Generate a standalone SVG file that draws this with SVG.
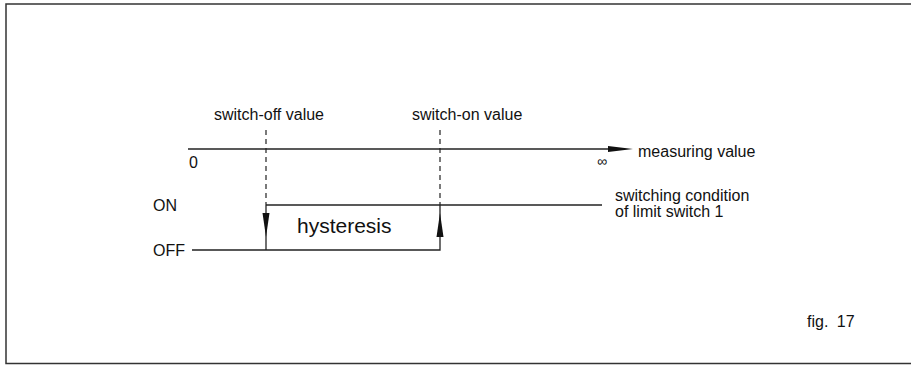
<svg xmlns="http://www.w3.org/2000/svg" width="911" height="366" viewBox="0 0 911 366">
<style>
.t{font-family:"Liberation Sans",Arial,Helvetica,sans-serif;fill:#111;font-size:16px}
.big{font-size:21px}
.sm{font-size:14px}
.ln{stroke:#222;stroke-width:1.3;fill:none}
.ds{stroke:#222;stroke-width:1.2;stroke-dasharray:5 4;fill:none}
.ah{fill:#111}
</style>
<rect x="6" y="4" width="910" height="359.5" fill="#fff" stroke="#333" stroke-width="1.5"/>
<g id="connectors">
<line class="ln" x1="188" y1="149" x2="610" y2="149"/>
<polygon class="ah" points="608,146 633,149 608,152"/>
<line class="ds" x1="266" y1="130" x2="266" y2="205"/>
<line class="ds" x1="440" y1="130" x2="440" y2="205"/>
<line class="ln" x1="266" y1="205" x2="602" y2="205"/>
<polyline class="ln" points="192,250 440,250 440,205"/>
<line class="ln" x1="266" y1="205" x2="266" y2="250"/>
<polygon class="ah" points="262.5,213 269.5,213 266,237"/>
<polygon class="ah" points="436.5,237 443.5,237 440,213"/>
</g>
<g id="labels">
<text class="t" x="214" y="120">switch-off value</text>
<text class="t" x="412" y="120">switch-on value</text>
<text class="t" x="189" y="168">0</text>
<text class="t sm" x="597" y="166">∞</text>
<text class="t" x="638" y="157">measuring value</text>
<text class="t" x="615" y="201">switching condition</text>
<text class="t" x="615" y="217">of limit switch 1</text>
<text class="t" x="153" y="211">ON</text>
<text class="t" x="153" y="256">OFF</text>
<text class="t big" x="297" y="233">hysteresis</text>
<text class="t" x="807" y="327" word-spacing="4">fig. 17</text>
</g>
</svg>
